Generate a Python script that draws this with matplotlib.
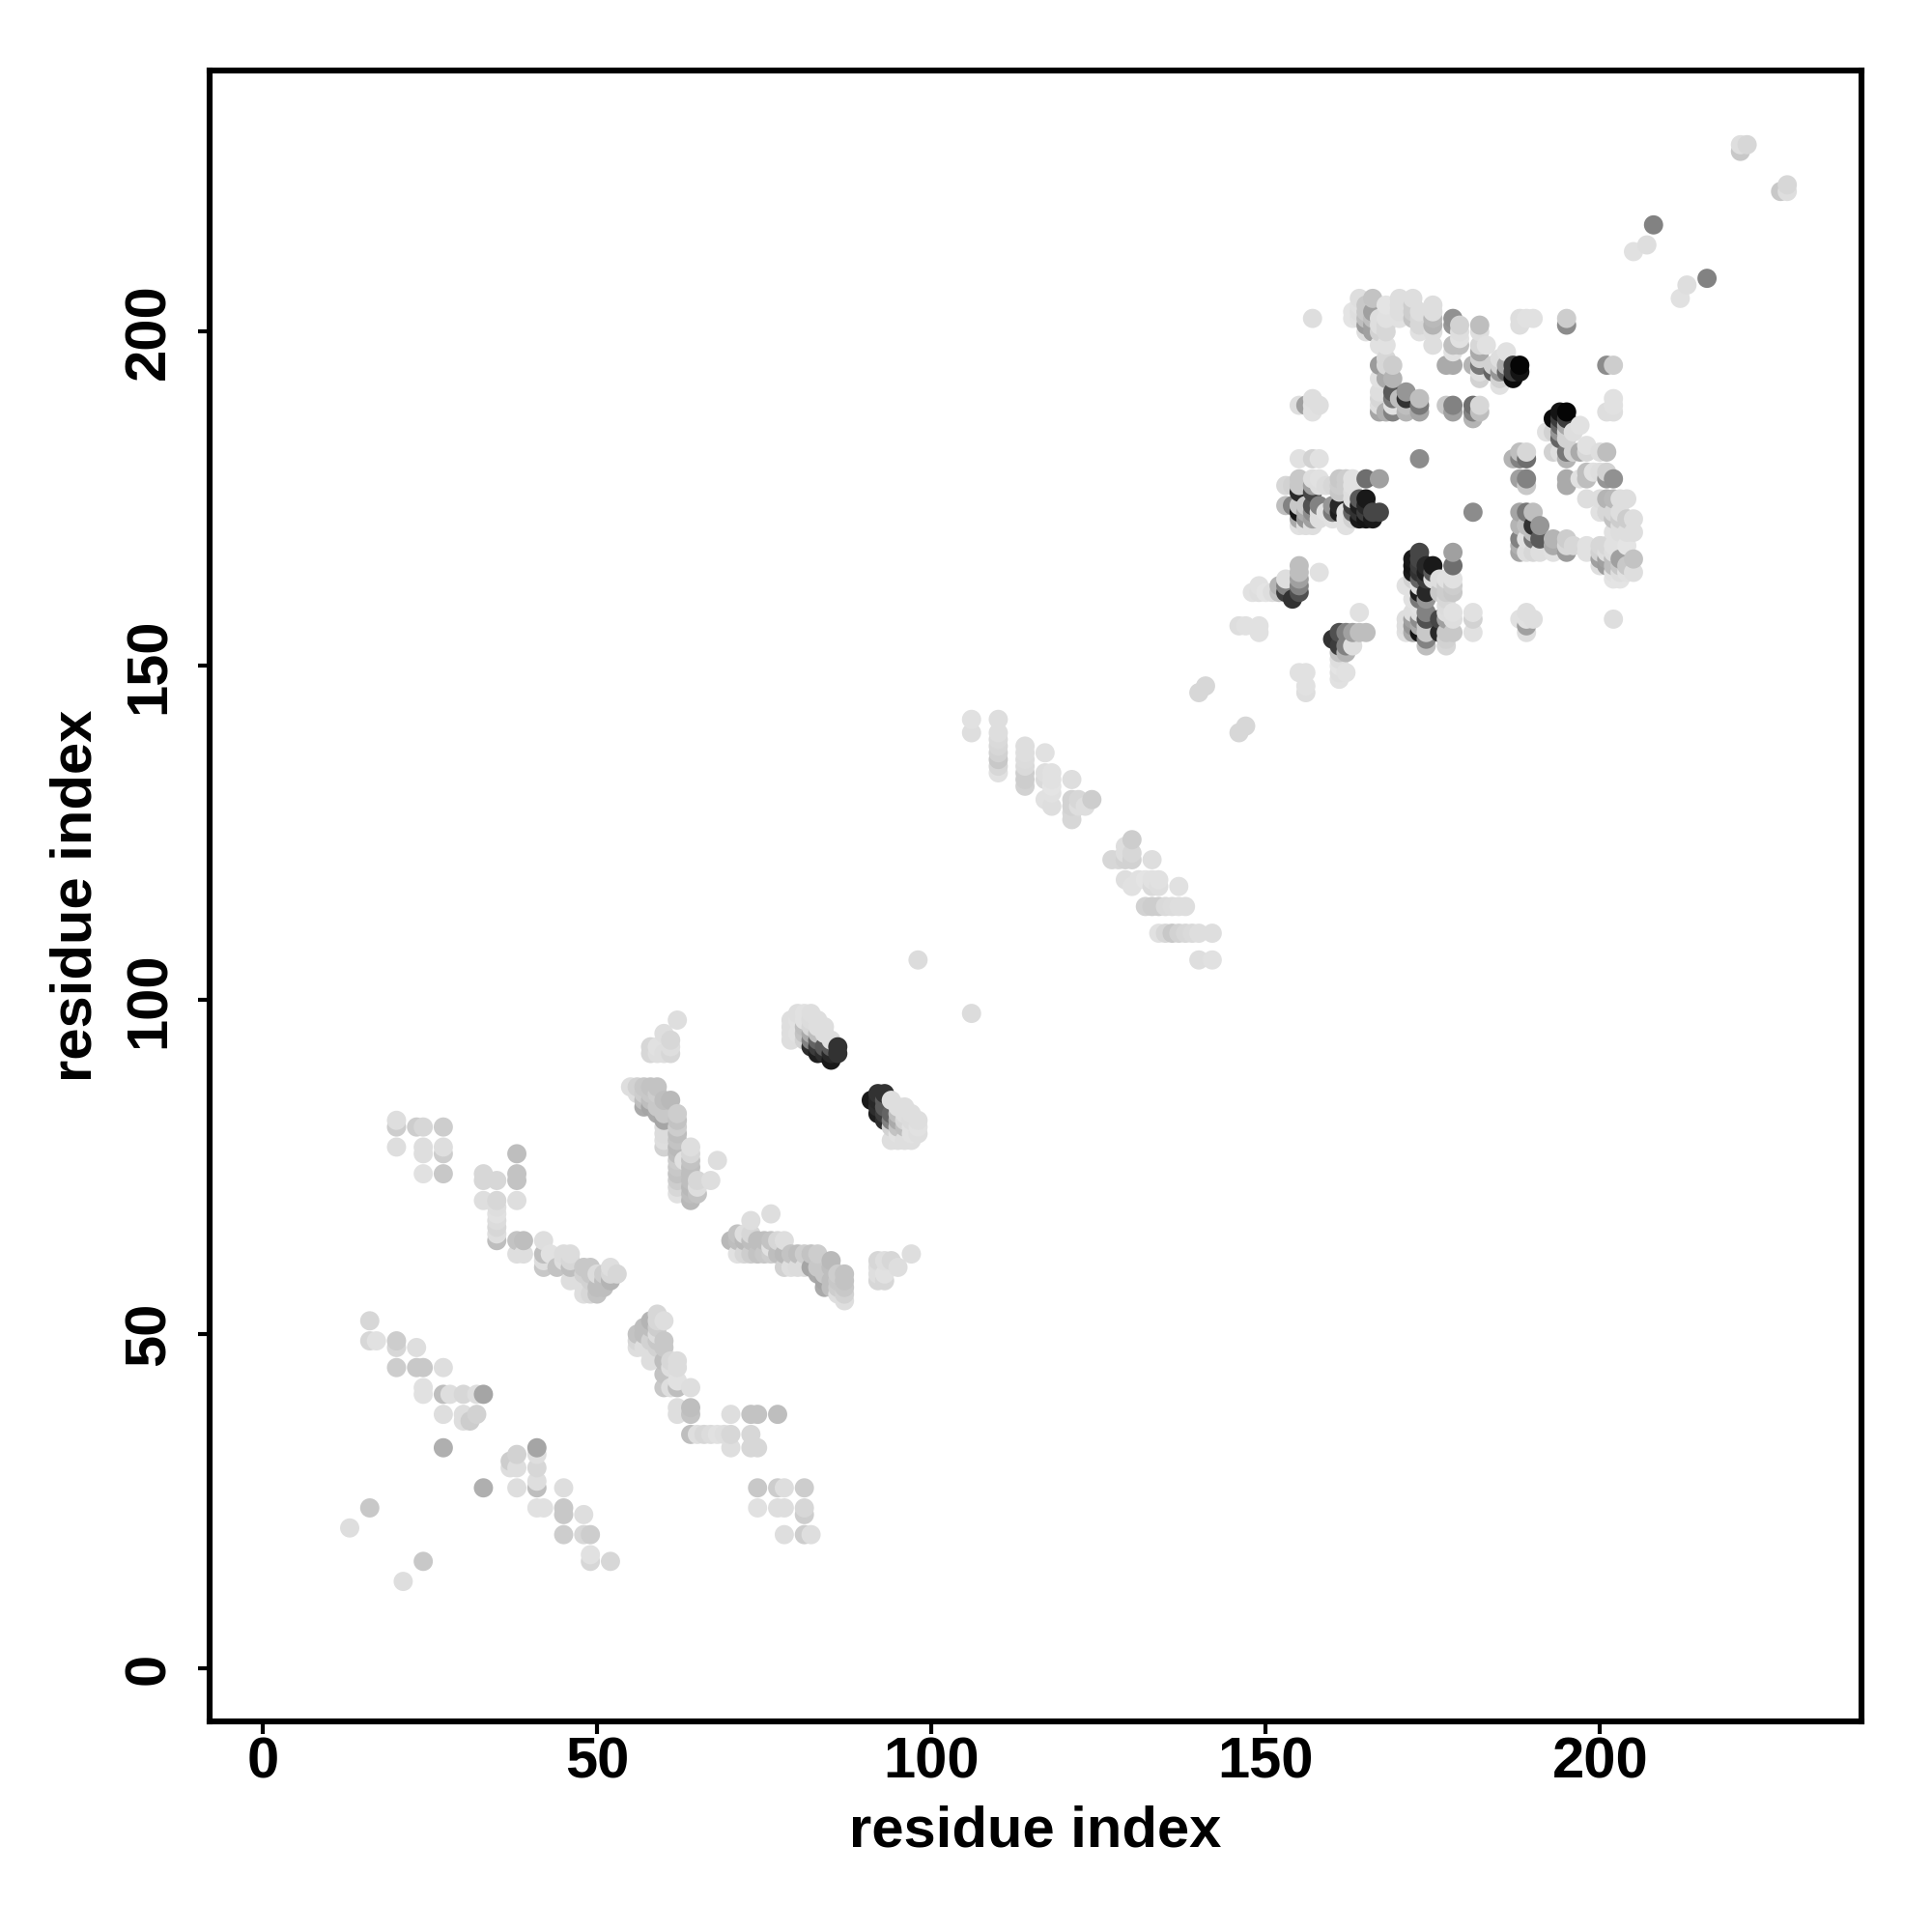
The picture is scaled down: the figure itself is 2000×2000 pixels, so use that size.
import numpy as np
import matplotlib
matplotlib.use("Agg")
import matplotlib.pyplot as plt

# Contacts (i, j, grey level) with i < j; the map is symmetric.
sheet_low = [(13,21,222),(16,24,200),(16,52,215),(16,49,215),(17,49,225),(20,49,205),(20,48,215),(23,48,222),
 (20,45,205),(23,45,200),(24,45,200),(27,45,222),(24,42,225),(24,41,225),(27,41,190),(28,41,222),(30,41,215),
 (32,41,222),(33,41,165),(27,38,222),(30,38,222),(30,37,222),(31,37,205),(32,38,210),(27,33,175)]
sheet_mid = [(20,82,222),(20,81,205),(20,78,222),(23,81,205),(24,81,215),(27,81,205),(24,78,222),(24,77,222),
 (27,78,222),(27,77,205),(24,74,225),(27,74,200),(33,74,215),(33,73,215),(35,73,215),(38,77,190),(38,74,195),
 (38,73,195),(33,70,222),(35,70,215),(38,70,222),(35,69,222),(35,68,225),(35,67,220),(35,66,215),(35,65,222),(35,64,190),
 (38,64,195),(39,64,190),(38,62,222),(39,62,222),(42,64,222),(42,62,190),(43,62,225),(42,61,222),(42,60,200),
 (45,62,220),(46,62,220),(45,61,222),(46,61,215),(44,60,195),(46,60,190),(46,58,222),(48,60,200),(49,60,200),
 (48,59,210),(49,59,200),(48,57,222),(48,56,222),(49,56,215),(50,56,195),(50,57,190),(51,57,190),(49,58,210),
 (51,58,190),(52,58,180),(50,59,220),(51,59,205),(52,59,215),(53,59,215),(52,60,222)]
sheet_high = [(62,97,222),(60,95,222),(61,94,215),(58,93,215),(59,93,225),(61,93,222),(58,92,215),(59,92,222),(60,92,222),(61,92,215),
 (55,87,222),(56,87,210),(57,87,200),(58,87,195),(59,87,195),(56,86,222),(57,86,205),(58,86,200),(59,86,205),
 (57,85,190),(58,85,190),(60,85,190),(61,85,185),(57,84,170),(58,84,165),(59,84,200),(59,83,170),(60,83,200),
 (62,83,205),(60,82,165),(62,82,195),(60,81,220),(62,81,205),(60,80,220),(62,80,190),(60,79,222),(62,79,195),
 (60,78,210),(62,78,185),(62,77,190),(62,76,205),(62,75,200),(62,74,195),(62,73,205),(62,72,215),(62,71,225),
 (63,76,225),(64,78,222),(64,77,215),(64,76,195),(64,75,190),(64,74,190),(64,73,190),(64,72,185),(64,71,190),
 (64,70,185),(65,73,215),(65,72,222),(65,71,195),(67,73,222),(68,76,222)]
turn_dark = [(79,94,222),(79,95,222),(79,96,222),(79,97,222),(80,95,225),(80,97,225),(80,98,222),(81,94,210),(81,95,195),(81,96,190),
 (81,97,225),(81,98,225),(82,93,45),(82,94,130),(82,95,170),(82,96,215),(82,97,220),(82,98,222),(83,92,30),(83,93,60),
 (83,94,100),(83,95,190),(83,96,222),(83,97,222),(84,92,45),(84,93,90),(84,95,222),(84,96,222),(85,91,25),(85,92,40),
 (85,93,90),(85,94,222),(86,92,50),(86,93,50)]
loop_contacts = [(106,98,220),(106,142,225),(106,140,222),(110,142,222),(110,140,222),(110,139,218),(110,138,215),(110,137,210),
 (110,136,200),(110,135,215),(110,134,225),(114,138,222),(114,137,222),(114,136,220),(114,135,218),(114,134,205),
 (114,133,205),(114,132,210),(117,137,225),(117,134,222),(117,133,218),(117,130,225),(118,134,225),(118,133,225),
 (118,132,228),(118,131,225),(118,129,222),(121,133,222),(121,130,210),(121,129,210),(121,128,215),(121,127,215),
 (122,130,215),(122,129,222),(123,129,222),(124,130,205),(140,146,215),(141,147,215)]
core_near = [(146,156,222),(147,156,225),(149,155,225),(149,156,225),(148,161,225),(149,162,225),(149,161,222),(150,161,228),
 (151,161,222),(152,162,180),(152,161,195),(153,163,222),(153,162,130),(153,161,60),(154,160,50),(155,165,190),
 (155,164,190),(155,163,160),(155,162,130),(155,161,80),(158,164,225)]
core_a = [(153,177,215),(153,174,190),(154,177,210),(154,174,130),(155,181,225),(155,178,200),(155,177,200),(155,176,40),
 (155,174,200),(155,173,20),(155,172,170),(155,171,225),(156,171,222),(156,172,150),(156,173,170),(156,174,200),
 (157,181,210),(157,178,222),(157,177,160),(157,176,70),(157,174,80),(157,173,140),(157,172,160),(157,171,222),
 (158,181,225),(158,178,225),(158,177,222),(158,174,130),(158,173,222),(158,172,222),(159,173,225),(159,177,220),(160,177,215),
 (160,174,150),(160,173,120),(160,172,225),(161,178,200),(161,177,205),(161,176,200),(161,174,40),(161,173,30),
 (162,178,205),(162,177,205),(162,173,225),(162,172,225),(162,171,225),(163,178,225),(163,177,225),(163,176,222),
 (163,175,222),(163,174,60),(163,173,100),(163,172,210),(164,175,90),(164,174,30),(164,173,50),(164,172,25),
 (165,178,110),(165,175,25),(165,174,40),(165,173,60),(165,172,20),(166,172,25),(166,173,70),(167,173,70),(167,178,160),
 (173,181,140)]
core_upper = [(156,189,160),(155,189,222),(157,188,225),(157,189,225),(158,189,222),(157,190,222),(157,202,222),
 (164,205,225),(164,204,225),(165,203,200),(165,202,190),(165,201,170),(165,200,200),(166,205,215),(166,203,195),
 (166,202,180),(166,201,185),(163,202,228),(163,203,228),(164,202,225),(164,203,222),(168,204,225),(168,202,225),(168,201,220),(168,200,215),
 (170,205,222),(170,204,225),(170,203,222),(172,205,222),(172,204,205),(172,203,205),(172,202,195),(173,203,222),
 (173,202,215),(173,201,205),(173,200,215),(175,204,222),(175,203,222),(175,202,195),(175,201,175),(175,200,200),
 (175,198,225),(178,202,145),(178,201,150),(178,198,190),(178,197,222),(178,195,170),(179,201,215),(179,200,225),
 (179,199,228),(179,198,195),(182,201,195),(182,200,215),(182,198,215),(182,197,175),(182,196,200),(182,195,190),
 (182,194,120),(182,193,210),(181,195,180),(183,198,225),(186,197,225),(185,196,222),(185,195,210),(185,194,150),
 (184,195,210),(184,194,100),(185,193,210),(185,192,225),(186,195,170),(186,194,100),(187,195,60),(187,194,60),
 (187,193,10),(188,195,5),(188,194,20),(188,201,222),(188,202,222),(189,202,225),(190,202,225),(195,202,205),(195,201,140),
 (167,195,155),(168,195,215),(169,195,205),(168,196,215),(167,198,225),(168,198,225),(168,193,170),(169,193,180),(167,193,225),
 (167,191,222),(167,190,215),(167,189,222),(167,188,165),(168,188,175),(169,191,90),(169,190,120),(169,189,225),
 (169,188,130),(170,190,190),(171,191,150),(171,190,50),(171,189,190),(171,188,180),(173,190,190),(173,189,120),
 (173,188,165),(177,189,200),(178,189,130),(178,188,160),(181,189,110),(181,188,130),(181,187,180),(182,189,215),(182,188,190)]
core_edge = [(163,202,228),(164,202,225),(164,203,222),(164,205,222),(165,200,222),(165,201,155),(165,203,200),(165,204,200),
 (166,200,160),(166,201,160),(166,202,190),(166,203,160),(166,205,195),(167,200,210),(167,201,222),(167,202,222),
 (168,200,215),(168,201,215),(168,204,228),(170,202,225),(170,204,222),(170,205,222),(171,203,222),(172,204,205),
 (172,205,222),(173,200,225),(173,201,215),(173,202,215),(175,198,222),(175,200,222),(175,201,180),(175,202,185),
 (175,203,222),(175,204,222),(177,195,170),(178,195,170),(178,197,225),(179,198,190),(179,199,225),(179,200,222),
 (179,201,210),(182,194,222),(182,195,120),(182,196,210),(182,197,170),(183,198,225),(182,200,222),(182,201,190)]
terminal = [(205,212,225),(207,213,222),(208,216,130),(221,227,200),(221,228,222),(222,228,215)]

groups = [sheet_low, sheet_mid, sheet_high, turn_dark, loop_contacts, core_near, core_a, core_upper, core_edge, terminal]
x_ticks = [0, 50, 100, 150, 200]
y_ticks = [0, 50, 100, 150, 200]

triples = [t for g in groups for t in g]
seen = {}
for i, j, g in triples:
    seen[(min(i, j), max(i, j))] = g
i_arr = np.array([k[0] for k in seen])
j_arr = np.array([k[1] for k in seen])
g_arr = np.array(list(seen.values()))
xs = np.concatenate([i_arr, j_arr])
ys = np.concatenate([j_arr, i_arr])
gs = np.concatenate([g_arr, g_arr])
order = np.lexsort((ys, xs))
cols = [(v / 255,) * 3 for v in gs[order]]

fig = plt.figure(figsize=(20, 20), dpi=100)
ax = fig.add_axes([217 / 2000, 1 - 1782 / 2000, (1927 - 217) / 2000, (1782 - 73) / 2000])
ax.scatter(xs[order], ys[order], c=cols, s=205, linewidths=0, zorder=3)
ax.set_xlim(-7.95, 239.1)
ax.set_ylim(-7.95, 239.1)
for s in ax.spines.values():
    s.set_linewidth(4.4)
font = dict(family="Liberation Sans", fontweight="bold", fontsize=43)
ax.set_xticks(x_ticks)
ax.set_yticks(y_ticks)
ax.tick_params(length=9, width=3, pad=2)
ax.tick_params(axis="y", pad=16)
ax.set_xticklabels([str(v) for v in x_ticks], **font)
ax.set_yticklabels([str(v) for v in y_ticks], rotation=90, va="center", **font)
ax.set_xlabel("residue index", labelpad=12, **font)
ax.set_ylabel("residue index", labelpad=15, **font)
fig.savefig("out.png", dpi=100, facecolor="white")
